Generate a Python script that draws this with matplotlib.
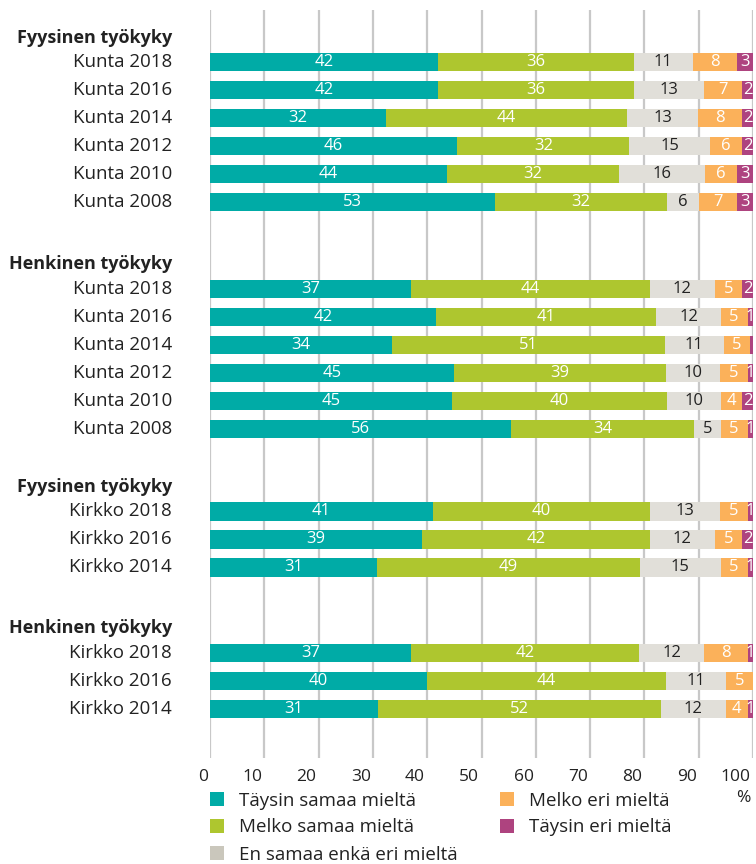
import matplotlib
matplotlib.use("Agg")
import matplotlib.pyplot as plt
from matplotlib.patches import Patch

plt.rcParams['font.family'] = ['Open Sans', 'DejaVu Sans']

# ---- data ----
groups = ["Fyysinen työkyky", "Henkinen työkyky", "Fyysinen työkyky", "Henkinen työkyky"]
group_rows = [
    ["Kunta 2018", "Kunta 2016", "Kunta 2014", "Kunta 2012", "Kunta 2010", "Kunta 2008"],
    ["Kunta 2018", "Kunta 2016", "Kunta 2014", "Kunta 2012", "Kunta 2010", "Kunta 2008"],
    ["Kirkko 2018", "Kirkko 2016", "Kirkko 2014"],
    ["Kirkko 2018", "Kirkko 2016", "Kirkko 2014"],
]
series_names = ["Täysin samaa mieltä", "Melko samaa mieltä", "En samaa enkä eri mieltä",
                "Melko eri mieltä", "Täysin eri mieltä"]
taysin_samaa = [42, 42, 32, 46, 44, 53,   37, 42, 34, 45, 45, 56,   41, 39, 31,   37, 40, 31]
melko_samaa  = [36, 36, 44, 32, 32, 32,   44, 41, 51, 39, 40, 34,   40, 42, 49,   42, 44, 52]
en_samaa     = [11, 13, 13, 15, 16, 6,    12, 12, 11, 10, 10, 5,    13, 12, 15,   12, 11, 12]
melko_eri    = [8, 7, 8, 6, 6, 7,         5, 5, 5, 5, 4, 5,         5, 5, 5,      8, 5, 4]
taysin_eri   = [3, 2, 2, 2, 3, 3,         2, 1, 0.5, 1, 2, 1,       1, 2, 1,      1, 0, 1]
x_ticks = [0, 10, 20, 30, 40, 50, 60, 70, 80, 90, 100]

colors = ["#00ABA6", "#AEC62F", "#E1DFD9", "#FBB15A", "#AE437F"]
legend_colors = ["#00ABA6", "#AEC62F", "#CAC7BC", "#FBB15A", "#AE437F"]
label_colors = ["white", "white", "#222222", "white", "white"]
series = [taysin_samaa, melko_samaa, en_samaa, melko_eri, taysin_eri]

# ---- layout positions ----
gaps = [0, 3.1, 2.95, 3.05]
row_pos, header_pos, row_labels = [], [], []
cur = 0.0
last = None
for gi, rows in enumerate(group_rows):
    if last is not None:
        cur = last + gaps[gi]
    header_pos.append(cur - 0.87)
    for r in rows:
        row_pos.append(cur)
        row_labels.append(r)
        last = cur
        cur += 1

fig = plt.figure(figsize=(7.56, 8.64), dpi=100)
ax = fig.add_axes([210/756, 1-758/864, 543/756, 748/864])
ax.set_xlim(0, 100)
ax.set_ylim((758-62)/28, (10-62)/28)

for v in x_ticks:
    ax.axvline(v, color="#C8C8C8", lw=1.6, zorder=0)

# 100 % stacked: each row scaled to its total
totals = [sum(col) for col in zip(*series)]
bar_h = 0.66
left = [0.0]*len(row_pos)
for si, vals in enumerate(series):
    widths = [v * 100.0 / t for v, t in zip(vals, totals)]
    ax.barh(row_pos, widths, left=left, height=bar_h, color=colors[si],
            edgecolor="none", zorder=2, clip_on=False)
    for i, v in enumerate(vals):
        if v >= 1:
            ax.text(left[i] + widths[i]/2, row_pos[i], f"{v:g}", ha="center", va="center",
                    color=label_colors[si], fontsize=12, zorder=3, clip_on=False)
    left = [l + w for l, w in zip(left, widths)]

# category labels
for y, lab in zip(row_pos, row_labels):
    ax.text(-7, y, lab, ha="right", va="center", fontsize=13.5, color="#222222",
            clip_on=False)
for y, g in zip(header_pos, groups):
    ax.text(-7, y, g, ha="right", va="center", fontsize=13, fontweight="bold",
            color="#222222", clip_on=False)

ax.set_xticks([])
ax.set_yticks([])
for s in ax.spines.values():
    s.set_visible(False)
xt = ax.get_xaxis_transform()
for v in x_ticks:
    ax.text(v - 0.4, -0.025, str(v), transform=xt, ha="right", va="center",
            fontsize=12.5, color="#222222", clip_on=False)
ax.text(98.3, -0.054, "%", transform=xt, ha="center", va="center",
        fontsize=12.5, color="#222222", clip_on=False)

handles = [Patch(facecolor=c, edgecolor="none") for c in legend_colors]
fig.legend(handles, series_names, loc="upper left", bbox_to_anchor=(202/756, 1-784/864),
           ncol=2, frameon=False, fontsize=13.5, handlelength=0.75, handleheight=0.75,
           handletextpad=0.8, columnspacing=2.3, labelspacing=0.48,
           labelcolor="#222222", borderaxespad=0)

fig.savefig("out.png", dpi=100)
